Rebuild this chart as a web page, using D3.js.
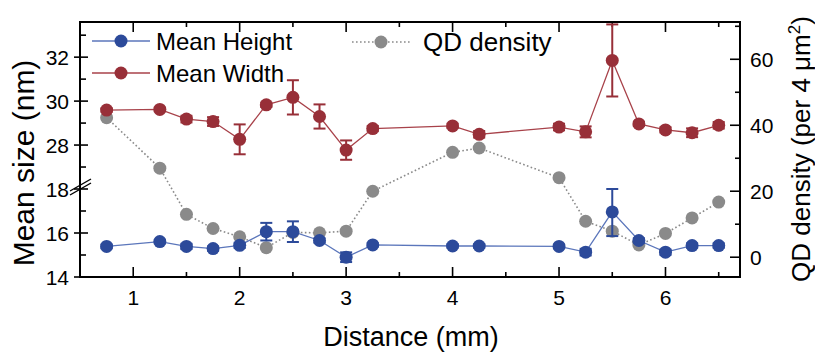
<!DOCTYPE html>
<html>
<head>
<meta charset="utf-8">
<script src="https://cdn.jsdelivr.net/npm/d3@7"></script>
<style>
    body { margin: 0; background: #fff; }
    text { font-family: "Liberation Sans", Arial, sans-serif; fill: #000; }
</style>
</head>
<body>
<div id="chart"></div>
<script>
// distance from the edge (mm)
var distance = [0.75, 1.25, 1.5, 1.75, 2.0, 2.25, 2.5, 2.75, 3.0, 3.25, 4.0, 4.25, 5.0, 5.25, 5.5, 5.75, 6.0, 6.25, 6.5];
// mean height (nm) and its error
var meanHeight = [15.39, 15.61, 15.39, 15.29, 15.44, 16.06, 16.06, 15.66, 14.90, 15.46, 15.41, 15.41, 15.39, 15.13, 16.96, 15.66, 15.13, 15.43, 15.43];
var heightErr = [0.08, 0.08, 0.12, 0.10, 0.12, 0.40, 0.47, 0.10, 0.22, 0.08, 0.08, 0.08, 0.08, 0.15, 1.10, 0.10, 0.12, 0.10, 0.10];
// mean width (nm) and its error
var meanWidth = [29.59, 29.62, 29.18, 29.07, 28.26, 29.83, 30.17, 29.30, 27.77, 28.75, 28.87, 28.49, 28.82, 28.60, 31.85, 28.96, 28.69, 28.56, 28.90];
var widthErr = [0.08, 0.08, 0.15, 0.20, 0.68, 0.10, 0.78, 0.55, 0.44, 0.12, 0.10, 0.15, 0.15, 0.25, 1.64, 0.10, 0.12, 0.20, 0.15];
// QD density (per 4 um^2)
var qdDensity = [42.3, 27.0, 13.0, 8.7, 6.2, 2.9, 7.5, 7.4, 7.9, 20.0, 31.8, 33.1, 24.1, 10.9, 7.9, 3.7, 7.2, 11.9, 16.7];

// tick labels
var xTicks = [1, 2, 3, 4, 5, 6];
var xMinor = [1.5, 2.5, 3.5, 4.5, 5.5, 6.5];
var leftTicks = [14, 16, 18, 28, 30, 32];
var leftMinor = [15, 17, 27, 29, 31, 33];
var rightTicks = [0, 20, 40, 60];
var rightMinor = [10, 30, 50, 70];

var width = 815, height = 356;
var plot = {left: 80, right: 740, top: 22, bottom: 277};

var blue = "#2c4a9a", blueLine = "#5b76bb";
var red = "#982f38", redLine = "#a8424a";
var grey = "#8a8a8a";

var svg = d3.select("#chart").append("svg")
    .attr("width", width)
    .attr("height", height);

var x = d3.scaleLinear().domain([0.5, 6.7]).range([plot.left, plot.right]);
// broken axis: 14-18 below the break, 26-33.6 above it
var yLeft = d3.scaleLinear().domain([14, 18, 26, 33.6]).range([plot.bottom, 189, 189, plot.top]);
var yRight = d3.scaleLinear().domain([-6, 71.3]).range([plot.bottom, plot.top]);

var rows = distance.map(function(d, i) {
    return {x: d, h: meanHeight[i], he: heightErr[i], w: meanWidth[i], we: widthErr[i], q: qdDensity[i]};
});

// ---- axes ----
var axes = svg.append("g").attr("class", "axes");

// bottom + top ticks (inward)
xTicks.forEach(function(t) {
    axes.append("line").attr("x1", x(t)).attr("x2", x(t)).attr("y1", plot.bottom).attr("y2", plot.bottom - 10);
    axes.append("line").attr("x1", x(t)).attr("x2", x(t)).attr("y1", plot.top).attr("y2", plot.top + 10);
});
xMinor.forEach(function(t) {
    axes.append("line").attr("x1", x(t)).attr("x2", x(t)).attr("y1", plot.bottom).attr("y2", plot.bottom - 5);
    axes.append("line").attr("x1", x(t)).attr("x2", x(t)).attr("y1", plot.top).attr("y2", plot.top + 5);
});
leftTicks.forEach(function(t) {
    axes.append("line").attr("x1", plot.left - 6).attr("x2", plot.left + 8).attr("y1", yLeft(t)).attr("y2", yLeft(t));
});
leftMinor.forEach(function(t) {
    axes.append("line").attr("x1", plot.left).attr("x2", plot.left + 6).attr("y1", yLeft(t)).attr("y2", yLeft(t));
});
rightTicks.forEach(function(t) {
    axes.append("line").attr("x1", plot.right).attr("x2", plot.right - 10).attr("y1", yRight(t)).attr("y2", yRight(t));
});
rightMinor.forEach(function(t) {
    axes.append("line").attr("x1", plot.right).attr("x2", plot.right - 5).attr("y1", yRight(t)).attr("y2", yRight(t));
});
axes.selectAll("line").attr("stroke", "#000").attr("stroke-width", 1.6);

axes.append("rect")
    .attr("x", plot.left).attr("y", plot.top)
    .attr("width", plot.right - plot.left).attr("height", plot.bottom - plot.top)
    .attr("fill", "none").attr("stroke", "#000").attr("stroke-width", 2);

// axis break marks
[0, -4].forEach(function(off) {
    axes.append("line")
        .attr("x1", plot.left - 10).attr("y1", yLeft(18) + 6 + off)
        .attr("x2", plot.left + 11).attr("y2", yLeft(18) - 6 + off)
        .attr("stroke", "#000").attr("stroke-width", 1.4);
});

// tick labels
axes.selectAll(".xlab").data(xTicks).enter().append("text")
    .attr("x", function(d) { return x(d); })
    .attr("y", 305)
    .attr("text-anchor", "middle")
    .style("font-size", "21px")
    .text(function(d) { return d; });

axes.selectAll(".llab").data(leftTicks).enter().append("text")
    .attr("x", 69)
    .attr("y", function(d) { return yLeft(d) + 7.5; })
    .attr("text-anchor", "end")
    .style("font-size", "21px")
    .text(function(d) { return d; });

axes.selectAll(".rlab").data(rightTicks).enter().append("text")
    .attr("x", 750)
    .attr("y", function(d) { return yRight(d) + 7.5; })
    .attr("text-anchor", "start")
    .style("font-size", "21px")
    .text(function(d) { return d; });

// axis titles
svg.append("text")
    .attr("x", (plot.left + plot.right) / 2 + 1)
    .attr("y", 346)
    .attr("text-anchor", "middle")
    .style("font-size", "27px")
    .text("Distance (mm)");

svg.append("text")
    .attr("transform", "translate(34," + 163 + ") rotate(-90)")
    .attr("text-anchor", "middle")
    .style("font-size", "30px")
    .text("Mean size (nm)");

var rt = svg.append("text")
    .attr("transform", "translate(810," + 149 + ") rotate(-90)")
    .attr("text-anchor", "middle")
    .style("font-size", "26px");
rt.append("tspan").text("QD density (per 4 \u03bcm");
rt.append("tspan").attr("dy", -10).style("font-size", "17px").text("2");
rt.append("tspan").attr("dy", 10).text(")");

// ---- series ----
var marks = svg.append("g").attr("class", "marks");

// QD density, drawn behind
var qdLine = d3.line().x(function(d) { return x(d.x); }).y(function(d) { return yRight(d.q); });
marks.append("path")
    .datum(rows)
    .attr("d", qdLine)
    .attr("fill", "none")
    .attr("stroke", grey)
    .attr("stroke-width", 1.6)
    .attr("stroke-dasharray", "1.6,2.4");
marks.selectAll(".qd").data(rows).enter().append("circle")
    .attr("class", "qd")
    .attr("cx", function(d) { return x(d.x); })
    .attr("cy", function(d) { return yRight(d.q); })
    .attr("r", 6.5)
    .attr("fill", grey);

function drawSeries(key, errKey, color, lineColor) {
    var line = d3.line().x(function(d) { return x(d.x); }).y(function(d) { return yLeft(d[key]); });
    marks.append("path")
        .datum(rows)
        .attr("d", line)
        .attr("fill", "none")
        .attr("stroke", lineColor)
        .attr("stroke-width", 1.3);

    var eb = marks.selectAll(".eb-" + key).data(rows).enter().append("g")
        .attr("class", "eb-" + key)
        .attr("stroke", color)
        .attr("stroke-width", 2);
    eb.append("line")
        .attr("x1", function(d) { return x(d.x); })
        .attr("x2", function(d) { return x(d.x); })
        .attr("y1", function(d) { return yLeft(d[key] - d[errKey]); })
        .attr("y2", function(d) { return yLeft(d[key] + d[errKey]); });
    eb.append("line")
        .attr("x1", function(d) { return x(d.x) - 6; })
        .attr("x2", function(d) { return x(d.x) + 6; })
        .attr("y1", function(d) { return yLeft(d[key] + d[errKey]); })
        .attr("y2", function(d) { return yLeft(d[key] + d[errKey]); });
    eb.append("line")
        .attr("x1", function(d) { return x(d.x) - 6; })
        .attr("x2", function(d) { return x(d.x) + 6; })
        .attr("y1", function(d) { return yLeft(d[key] - d[errKey]); })
        .attr("y2", function(d) { return yLeft(d[key] - d[errKey]); });

    marks.selectAll(".pt-" + key).data(rows).enter().append("circle")
        .attr("class", "pt-" + key)
        .attr("cx", function(d) { return x(d.x); })
        .attr("cy", function(d) { return yLeft(d[key]); })
        .attr("r", 6.5)
        .attr("fill", color);
}

drawSeries("h", "he", blue, blueLine);
drawSeries("w", "we", red, redLine);

// ---- legend ----
var legend = svg.append("g").attr("class", "legend");
var legendItems = [
    {label: "Mean Height", color: blue, line: blueLine, x: 92, y: 41, dash: null, size: 24, gap: 64},
    {label: "Mean Width", color: red, line: redLine, x: 92, y: 73, dash: null, size: 24, gap: 64},
    {label: "QD density", color: grey, line: grey, x: 352, y: 42, dash: "1.6,2.4", size: 26, gap: 71}
];
legendItems.forEach(function(d) {
    legend.append("line")
        .attr("x1", d.x).attr("x2", d.x + 58)
        .attr("y1", d.y).attr("y2", d.y)
        .attr("stroke", d.line)
        .attr("stroke-width", d.dash ? 1.6 : 1.3)
        .attr("stroke-dasharray", d.dash);
    legend.append("circle")
        .attr("cx", d.x + 29).attr("cy", d.y)
        .attr("r", 6.5).attr("fill", d.color);
    legend.append("text")
        .attr("x", d.x + d.gap).attr("y", d.y + d.size * 0.36)
        .style("font-size", d.size + "px")
        .text(d.label);
});
</script>
</body>
</html>
